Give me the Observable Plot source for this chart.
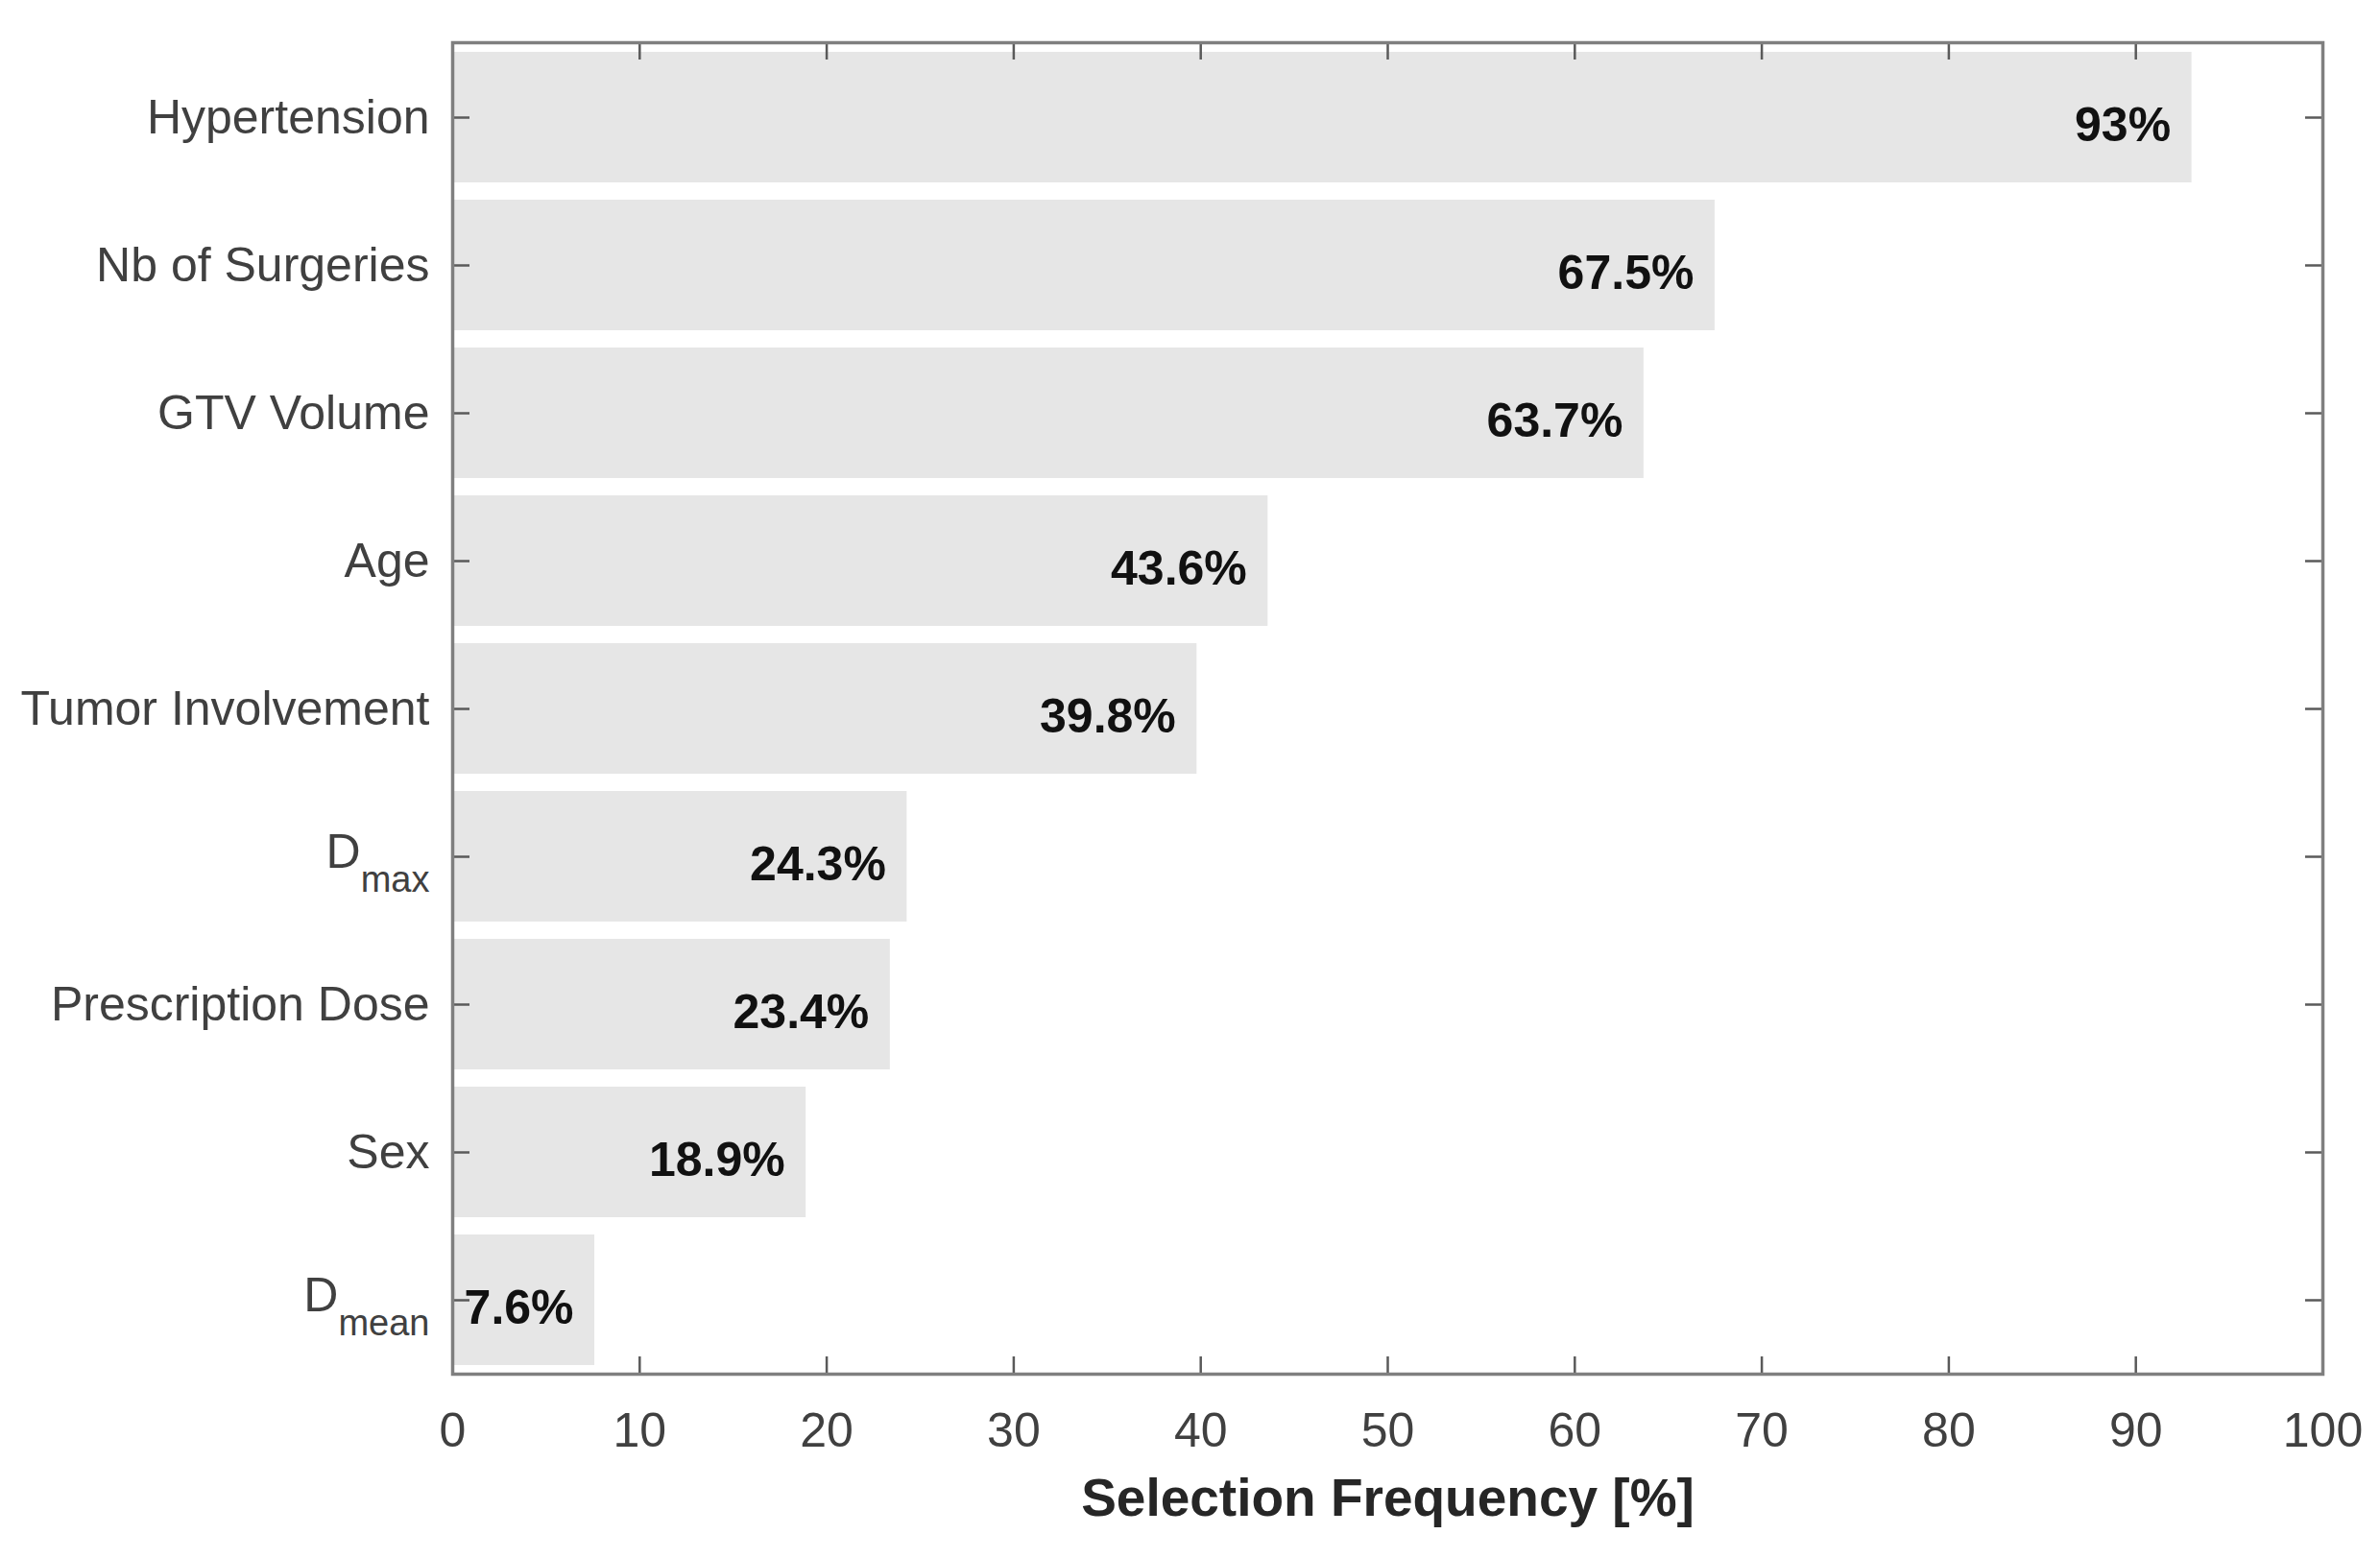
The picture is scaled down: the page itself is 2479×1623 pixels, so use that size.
<!DOCTYPE html>
<html><head><meta charset="utf-8">
<script src="https://cdn.jsdelivr.net/npm/d3@7"></script>
<script src="https://cdn.jsdelivr.net/npm/@observablehq/plot@0.6"></script>
<style>html,body{margin:0;padding:0;background:#fff} svg{display:block}</style>
</head><body><div id="chart"></div>
<script>
const categories = ["Hypertension", "Nb of Surgeries", "GTV Volume", "Age", "Tumor Involvement", "D_max", "Prescription Dose", "Sex", "D_mean"];
const values = [93, 67.5, 63.7, 43.6, 39.8, 24.3, 23.4, 18.9, 7.6];
const xTicks = [0, 10, 20, 30, 40, 50, 60, 70, 80, 90, 100];
const xLabel = "Selection Frequency [%]";

const data = categories.map((c, i) => ({feature: c, value: values[i]}));

const W = 2479, H = 1623, mL = 471, mR = 60, mT = 44, mB = 192;
const innerH = H - mT - mB;
const innerW = W - mL - mR;
const tk = 18;
const tickStyle = {stroke: "#5a5a5a", strokeOpacity: 1, strokeWidth: 2.5};

const chart = Plot.plot({
  width: W, height: H,
  marginLeft: mL, marginRight: mR, marginTop: mT, marginBottom: mB,
  style: {fontFamily: "'Liberation Sans', Arial, Helvetica, sans-serif", background: "#fff"},
  x: {domain: [0, 100]},
  y: {domain: categories, paddingInner: 0.12, paddingOuter: 0.06},
  marks: [
    Plot.barX(data, {x: "value", y: "feature", fill: "#e6e6e6"}),
    Plot.gridX(xTicks, {insetTop: innerH - tk, ...tickStyle}),
    Plot.gridX(xTicks, {insetBottom: innerH - tk, ...tickStyle}),
    Plot.gridY(categories, {insetRight: innerW - tk, ...tickStyle}),
    Plot.gridY(categories, {insetLeft: innerW - tk, ...tickStyle}),
    Plot.frame({stroke: "#7f7f7f", strokeWidth: 3.5}),
    Plot.axisX(xTicks, {tickSize: 0, tickPadding: 40, fontSize: 50, fill: "#404040", label: null}),
    Plot.axisY({tickSize: 0, tickPadding: 24, fontSize: 50, fill: "#404040", label: null}),
    Plot.text(data, {x: "value", y: "feature", text: d => d.value + "%", textAnchor: "end", dx: -22, dy: 8, fontSize: 50, fontWeight: "bold", fill: "#111"}),
    Plot.text([xLabel], {frameAnchor: "bottom", dy: 147, fontSize: 55, fontWeight: "bold", fill: "#262626"})
  ]
});

d3.select(chart).selectAll('g[aria-label="y-axis tick label"] text').each(function() {
  const t = this.textContent;
  if (t.includes("_")) {
    const [base, sub] = t.split("_");
    const sel = d3.select(this);
    sel.text(null);
    sel.append("tspan").attr("dy", -5).text(base);
    sel.append("tspan").attr("dy", 25).attr("font-size", 38).text(sub);
  }
});

document.getElementById("chart").appendChild(chart);
</script>
</body></html>
